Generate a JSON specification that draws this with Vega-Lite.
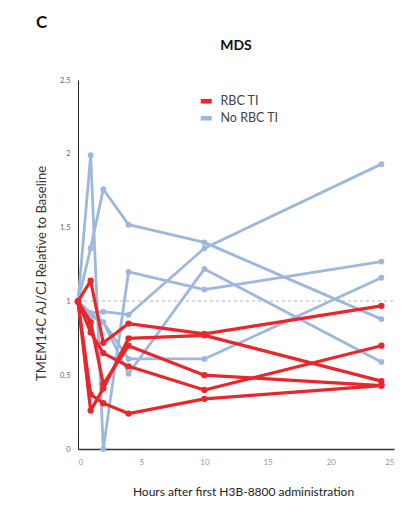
{
  "$schema": "https://vega.github.io/schema/vega-lite/v6.json",
  "background": "white",
  "padding": {"left": 35, "top": 14, "right": 10, "bottom": 10},
  "title": {"text": "C", "anchor": "start", "frame": "group", "fontSize": 17, "fontWeight": "bold", "font": "Lato", "color": "#111", "offset": 7, "dx": -42},
  "datasets": {
    "series": [
      {"id": "B1", "group": "No RBC TI", "h": 0, "v": 1},
      {"id": "B1", "group": "No RBC TI", "h": 1, "v": 1.36},
      {"id": "B1", "group": "No RBC TI", "h": 2, "v": 1.76},
      {"id": "B1", "group": "No RBC TI", "h": 4, "v": 1.52},
      {"id": "B1", "group": "No RBC TI", "h": 10, "v": 1.40},
      {"id": "B1", "group": "No RBC TI", "h": 24, "v": 0.88},
      {"id": "B2", "group": "No RBC TI", "h": 0, "v": 1},
      {"id": "B2", "group": "No RBC TI", "h": 1, "v": 1.99},
      {"id": "B2", "group": "No RBC TI", "h": 2, "v": 0},
      {"id": "B2", "group": "No RBC TI", "h": 4, "v": 1.20},
      {"id": "B2", "group": "No RBC TI", "h": 10, "v": 1.08},
      {"id": "B2", "group": "No RBC TI", "h": 24, "v": 1.27},
      {"id": "B3", "group": "No RBC TI", "h": 0, "v": 1},
      {"id": "B3", "group": "No RBC TI", "h": 1, "v": 0.92},
      {"id": "B3", "group": "No RBC TI", "h": 2, "v": 0.93},
      {"id": "B3", "group": "No RBC TI", "h": 4, "v": 0.91},
      {"id": "B3", "group": "No RBC TI", "h": 10, "v": 1.36},
      {"id": "B3", "group": "No RBC TI", "h": 24, "v": 1.93},
      {"id": "B4", "group": "No RBC TI", "h": 0, "v": 1},
      {"id": "B4", "group": "No RBC TI", "h": 1, "v": 0.92},
      {"id": "B4", "group": "No RBC TI", "h": 2, "v": 0.86},
      {"id": "B4", "group": "No RBC TI", "h": 4, "v": 0.61},
      {"id": "B4", "group": "No RBC TI", "h": 10, "v": 0.61},
      {"id": "B4", "group": "No RBC TI", "h": 24, "v": 1.16},
      {"id": "B5", "group": "No RBC TI", "h": 0, "v": 1},
      {"id": "B5", "group": "No RBC TI", "h": 1, "v": 0.90},
      {"id": "B5", "group": "No RBC TI", "h": 2, "v": 0.86},
      {"id": "B5", "group": "No RBC TI", "h": 4, "v": 0.51},
      {"id": "B5", "group": "No RBC TI", "h": 10, "v": 1.22},
      {"id": "B5", "group": "No RBC TI", "h": 24, "v": 0.59},
      {"id": "R1", "group": "RBC TI", "h": 0, "v": 1},
      {"id": "R1", "group": "RBC TI", "h": 1, "v": 1.14},
      {"id": "R1", "group": "RBC TI", "h": 2, "v": 0.72},
      {"id": "R1", "group": "RBC TI", "h": 4, "v": 0.85},
      {"id": "R1", "group": "RBC TI", "h": 10, "v": 0.78},
      {"id": "R1", "group": "RBC TI", "h": 24, "v": 0.97},
      {"id": "R2", "group": "RBC TI", "h": 0, "v": 1},
      {"id": "R2", "group": "RBC TI", "h": 1, "v": 0.79},
      {"id": "R2", "group": "RBC TI", "h": 2, "v": 0.65},
      {"id": "R2", "group": "RBC TI", "h": 4, "v": 0.56},
      {"id": "R2", "group": "RBC TI", "h": 10, "v": 0.40},
      {"id": "R2", "group": "RBC TI", "h": 24, "v": 0.70},
      {"id": "R3", "group": "RBC TI", "h": 0, "v": 1},
      {"id": "R3", "group": "RBC TI", "h": 1, "v": 0.26},
      {"id": "R3", "group": "RBC TI", "h": 2, "v": 0.41},
      {"id": "R3", "group": "RBC TI", "h": 4, "v": 0.75},
      {"id": "R3", "group": "RBC TI", "h": 10, "v": 0.77},
      {"id": "R3", "group": "RBC TI", "h": 24, "v": 0.46},
      {"id": "R4", "group": "RBC TI", "h": 0, "v": 1},
      {"id": "R4", "group": "RBC TI", "h": 1, "v": 0.37},
      {"id": "R4", "group": "RBC TI", "h": 2, "v": 0.31},
      {"id": "R4", "group": "RBC TI", "h": 4, "v": 0.24},
      {"id": "R4", "group": "RBC TI", "h": 10, "v": 0.34},
      {"id": "R4", "group": "RBC TI", "h": 24, "v": 0.43},
      {"id": "R5", "group": "RBC TI", "h": 0, "v": 1},
      {"id": "R5", "group": "RBC TI", "h": 1, "v": 0.86},
      {"id": "R5", "group": "RBC TI", "h": 2, "v": 0.44},
      {"id": "R5", "group": "RBC TI", "h": 4, "v": 0.70},
      {"id": "R5", "group": "RBC TI", "h": 10, "v": 0.50},
      {"id": "R5", "group": "RBC TI", "h": 24, "v": 0.43}
    ]
  },
  "vconcat": [
    {
      "width": 316,
      "height": 369,
      "title": {"text": "MDS", "anchor": "middle", "fontSize": 14, "fontWeight": "bold", "font": "Lato", "color": "#111", "offset": 23},
      "data": {"name": "series"},
      "encoding": {
        "x": {"field": "h", "type": "quantitative", "scale": {"domain": [0, 25], "nice": false},
          "axis": {"values": [0, 5, 10, 15, 20, 25], "title": "Hours after first H3B-8800 administration", "grid": false, "ticks": false, "domainColor": "#333", "domainWidth": 1.5, "labelColor": "#999", "labelFontSize": 8, "labelFont": "Lato", "labelPadding": 9, "titleFont": "Lato", "titleFontSize": 12, "titleFontWeight": "normal", "titleColor": "#222", "titlePadding": 20, "titleX": 165, "titleAlign": "center"}},
        "y": {"field": "v", "type": "quantitative", "scale": {"domain": [0, 2.5], "nice": false},
          "axis": {"values": [0, 0.5, 1, 1.5, 2, 2.5], "format": "~g", "title": "TMEM14C AJ/CJ Relative to Baseline", "grid": false, "ticks": false, "domainColor": "#222", "domainWidth": 1, "labelColor": "#666", "labelFontSize": 7.5, "labelFont": "Lato", "labelPadding": 8, "titleFont": "Lato", "titleFontSize": 13, "titleFontWeight": "normal", "titleColor": "#333", "titlePadding": 11, "titleY": 193, "titleAlign": "center"}},
        "color": {"field": "group", "type": "nominal",
          "scale": {"domain": ["RBC TI", "No RBC TI"], "range": ["#E8262B", "#9DB8DC"]},
          "legend": {"title": null, "orient": "none", "legendX": 122, "legendY": 15, "symbolType": "M-1,-0.42H1V0.42H-1Z", "symbolSize": 120, "symbolStrokeWidth": 0, "labelFont": "Lato", "labelFontSize": 12.5, "labelColor": "#444", "rowPadding": 4, "labelOffset": 8,
            "encode": {"symbols": {"update": {"fill": {"scale": "color", "field": "value"}, "strokeWidth": {"value": 0}, "opacity": {"value": 1}}}}}
        }
      },
      "layer": [
        {"mark": {"type": "rule", "strokeDash": [3, 3], "color": "#d9d9d9", "strokeWidth": 1}, "encoding": {"y": {"datum": 1}, "color": {"value": "#d9d9d9"}, "x": {"value": 0}, "x2": {"value": 316}}},
        {"transform": [{"filter": "datum.group == 'No RBC TI'"}], "mark": {"type": "line", "strokeWidth": 2.8, "strokeJoin": "round"}, "encoding": {"detail": {"field": "id"}}},
        {"transform": [{"filter": "datum.group == 'No RBC TI'"}], "mark": {"type": "point", "filled": true, "opacity": 1, "size": 34}},
        {"transform": [{"filter": "datum.group == 'RBC TI'"}], "mark": {"type": "line", "strokeWidth": 3.2, "strokeJoin": "round"}, "encoding": {"detail": {"field": "id"}}},
        {"transform": [{"filter": "datum.group == 'RBC TI'"}], "mark": {"type": "point", "filled": true, "opacity": 1, "size": 40}}
      ]
    }
  ],
  "config": {"view": {"stroke": null}, "font": "Lato"}
}
